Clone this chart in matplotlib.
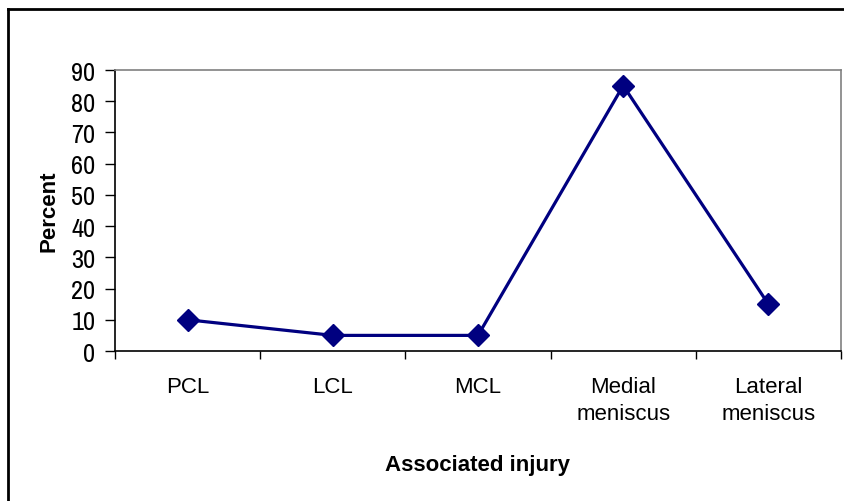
import matplotlib
matplotlib.use("Agg")
import matplotlib.pyplot as plt
from matplotlib.lines import Line2D

categories = ["PCL", "LCL", "MCL", "Medial\nmeniscus", "Lateral\nmeniscus"]
percent = [10, 5, 5, 85, 15]
yticks = [0, 10, 20, 30, 40, 50, 60, 70, 80, 90]

W, H = 845, 502
fig = plt.figure(figsize=(W / 100, H / 100), dpi=100)
fig.patch.set_facecolor("white")

L, R, T, B = 115, 841, 71, 352
ax = fig.add_axes([L / W, 1 - B / H, (R - L) / W, (B - T) / H])

x = list(range(len(categories)))
ax.plot(x, percent, color="#000080", linewidth=2.3, marker="D",
        markersize=11, markerfacecolor="#000080", markeredgecolor="#000080",
        clip_on=False, zorder=3)

ax.set_xlim(-0.5, len(categories) - 0.5)
ax.set_ylim(0, 90)

ax.set_xticks(x)
ax.set_xticklabels(categories, fontsize=16, family="Liberation Sans", linespacing=1.35)
ax.set_xticks([i - 0.5 for i in range(len(categories) + 1)], minor=True)
ax.tick_params(axis="x", which="major", length=0, pad=18)
ax.tick_params(axis="x", which="minor", length=6, width=1, direction="out", color="black")

ax.set_yticks(yticks)
ax.set_yticklabels([str(v) for v in yticks], fontsize=19,
                   family=["Archivo Narrow", "Liberation Sans"])
ax.tick_params(axis="y", which="major", length=7, width=1, direction="out", pad=7, color="black")

for side in ("left", "bottom"):
    ax.spines[side].set_color("black")
    ax.spines[side].set_linewidth(1.2)
for side in ("top", "right"):
    ax.spines[side].set_color("#808080")
    ax.spines[side].set_linewidth(1.2)

ax.set_xlabel("Associated injury", fontsize=16, fontweight="bold", family="Liberation Sans")
ax.xaxis.set_label_coords(0.5, -0.365)
ax.set_ylabel("Percent", fontsize=16, fontweight="bold", family="Liberation Sans")
ax.yaxis.set_label_coords(-0.077, 0.5)

# outer chart border (left and top visible)
bx, by = 8.5 / W, 1 - 10 / H
fig.add_artist(Line2D([bx, bx], [0, by], transform=fig.transFigure, color="black", linewidth=2))
fig.add_artist(Line2D([bx, 1], [by, by], transform=fig.transFigure, color="black", linewidth=2))

fig.savefig("out.png", dpi=100, facecolor="white")
